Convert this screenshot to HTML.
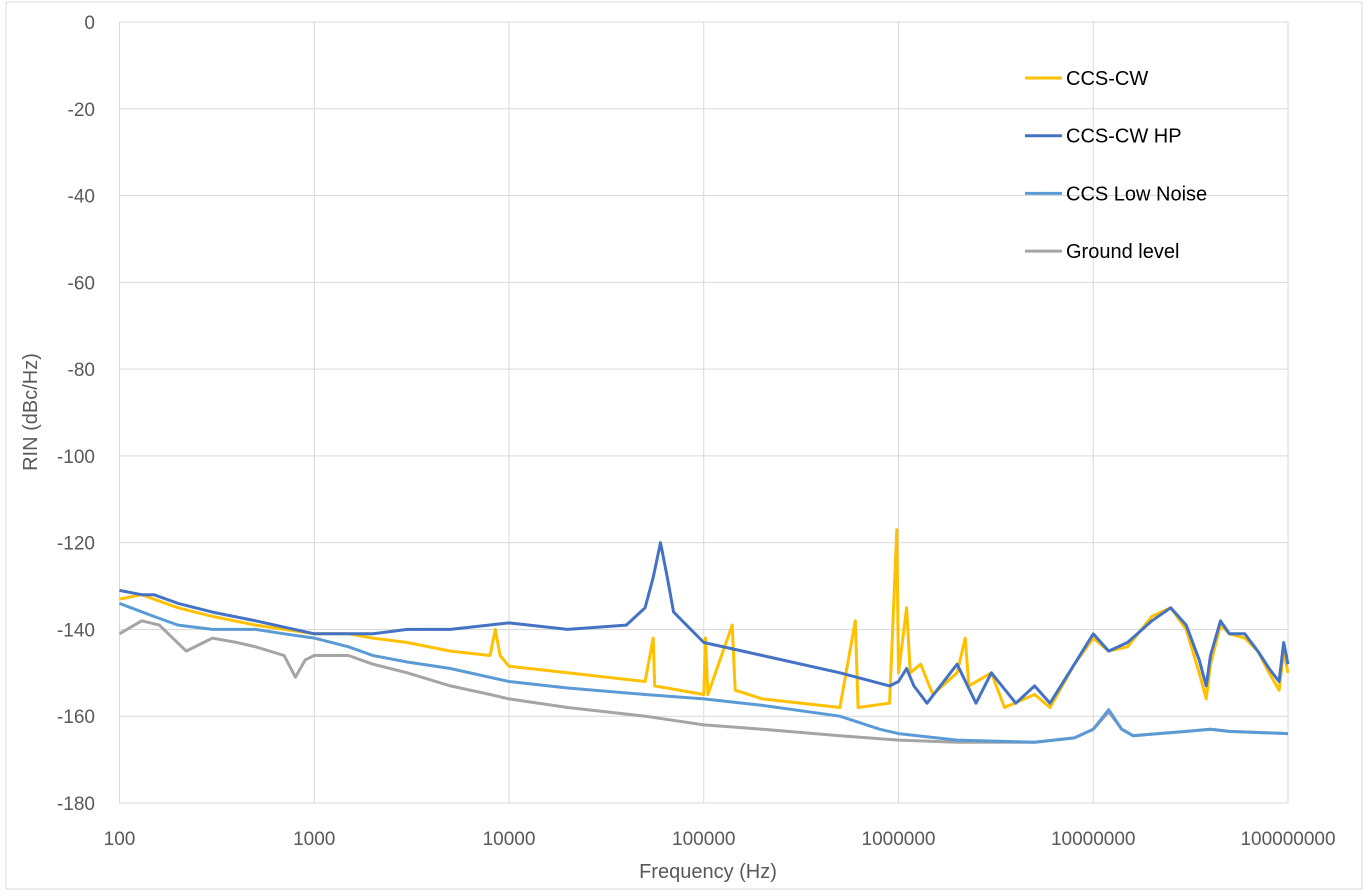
<!DOCTYPE html>
<html><head><meta charset="utf-8"><style>
body{margin:0;background:#fff;}
svg{display:block;font-family:"Liberation Sans",sans-serif;}
</style></head><body>
<svg id="chart" width="1366" height="896">
<rect x="6" y="2" width="1356" height="887" fill="#fff" stroke="#d9d9d9"/>
<g id="grid"></g><g id="series"></g><g id="labels"></g>
<text x="708" y="878" text-anchor="middle" font-size="20" fill="#595959">Frequency (Hz)</text>
<text transform="translate(37,412) rotate(-90)" text-anchor="middle" font-size="20" fill="#595959">RIN (dBc/Hz)</text>
<g id="legend"></g>
</svg>
<script>
const xTicks=[100,1000,10000,100000,1000000,10000000,100000000];
const yTicks=[0,-20,-40,-60,-80,-100,-120,-140,-160,-180];
const seriesNames=["CCS-CW","CCS-CW HP","CCS Low Noise","Ground level"];
const seriesColors=["#FFC000","#4472C4","#5B9BD5","#A5A5A5"];
const cwF=[100,130,150,200,300,500,1000,1500,2000,3000,5000,8000,8500,9000,10000,20000,50000,55000,56000,100000,102000,105000,140000,145000,200000,500000,600000,620000,900000,980000,1000000,1100000,1150000,1300000,1500000,2000000,2200000,2300000,3000000,3500000,5000000,6000000,8000000,10000000,12000000,15000000,20000000,25000000,30000000,35000000,38000000,40000000,45000000,50000000,60000000,70000000,80000000,90000000,95000000,100000000];
const cwV=[-133,-132,-133,-135,-137,-139,-141,-141,-142,-143,-145,-146,-140,-146,-148.5,-150,-152,-142,-153,-155,-142,-155,-139,-154,-156,-158,-138,-158,-157,-117,-150,-135,-150,-148,-155,-150,-142,-153,-150,-158,-155,-158,-148,-142,-145,-144,-137,-135,-140,-150,-156,-148,-139,-141,-142,-145,-150,-154,-145,-150];
const hpF=[100,130,150,200,300,500,1000,1500,2000,3000,5000,10000,20000,40000,50000,55000,60000,65000,70000,100000,200000,500000,900000,1000000,1100000,1200000,1400000,2000000,2500000,3000000,4000000,5000000,6000000,8000000,10000000,12000000,15000000,20000000,25000000,30000000,35000000,38000000,40000000,45000000,50000000,60000000,70000000,80000000,90000000,95000000,100000000];
const hpV=[-131,-132,-132,-134,-136,-138,-141,-141,-141,-140,-140,-138.5,-140,-139,-135,-128,-120,-128,-136,-143,-146,-150,-153,-152,-149,-153,-157,-148,-157,-150,-157,-153,-157,-148,-141,-145,-143,-138,-135,-139,-147,-153,-146,-138,-141,-141,-145,-149,-152,-143,-148];
const lnF=[100,150,200,300,500,700,1000,1500,2000,3000,5000,10000,20000,50000,100000,200000,500000,800000,1000000,2000000,5000000,8000000,10000000,12000000,14000000,16000000,30000000,40000000,50000000,100000000];
const lnV=[-134,-137,-139,-140,-140,-141,-142,-144,-146,-147.5,-149,-152,-153.5,-155,-156,-157.5,-160,-163,-164,-165.5,-166,-165,-163,-158.5,-163,-164.5,-163.5,-163,-163.5,-164];
const gF=[100,130,160,220,300,400,500,700,800,900,1000,1500,2000,3000,5000,8000,10000,20000,50000,100000,200000,500000,1000000,2000000,5000000,8000000,10000000,12000000,14000000,16000000,30000000,40000000,50000000,100000000];
const gV=[-141,-138,-139,-145,-142,-143,-144,-146,-151,-147,-146,-146,-148,-150,-153,-155,-156,-158,-160,-162,-163,-164.5,-165.5,-166,-166,-165,-163,-159,-163,-164.5,-163.5,-163,-163.5,-164];
const L=119.5,R=1288,T=22,B=803;
const xs=f=>L+(Math.log10(f)-2)/6*(R-L);
const ys=v=>T+(0-v)/180*(B-T);
const NS="http://www.w3.org/2000/svg";
function mk(tag,attrs,parent){const e=document.createElementNS(NS,tag);for(const k in attrs)e.setAttribute(k,attrs[k]);parent.appendChild(e);return e;}
const grid=document.getElementById('grid'),labels=document.getElementById('labels'),ser=document.getElementById('series'),leg=document.getElementById('legend');
yTicks.forEach(v=>{const l=mk('line',{x1:L,x2:R,y1:ys(v),y2:ys(v),stroke:'#d9d9d9','stroke-width':1},grid);


const t=mk('text',{x:95,y:ys(v)+7,'text-anchor':'end','font-size':19,fill:'#595959'},labels);t.textContent=v;

});
xTicks.forEach(f=>{const l=mk('line',{x1:xs(f),x2:xs(f),y1:T,y2:B,stroke:'#d9d9d9','stroke-width':1},grid);


const t=mk('text',{x:xs(f),y:845,'text-anchor':'middle','font-size':19,fill:'#595959'},labels);t.textContent=f;

});
const data=[[gF,gV,3],[lnF,lnV,2],[cwF,cwV,0],[hpF,hpV,1]];
data.forEach(([F,V,i])=>{const p=mk('polyline',{points:F.map((f,j)=>xs(f).toFixed(1)+','+ys(V[j]).toFixed(1)).join(' '),fill:'none',stroke:seriesColors[i],'stroke-width':3,'stroke-linejoin':'round'},ser);

});
seriesNames.forEach((n,i)=>{const y=78+i*57.7;const g=mk('g',{},leg);


mk('line',{x1:1025,x2:1062,y1:y,y2:y,stroke:seriesColors[i],'stroke-width':3},g);
const t=mk('text',{x:1066,y:y+7,'font-size':20,fill:'#000'},g);t.textContent=n;});
</script>
</body></html>
